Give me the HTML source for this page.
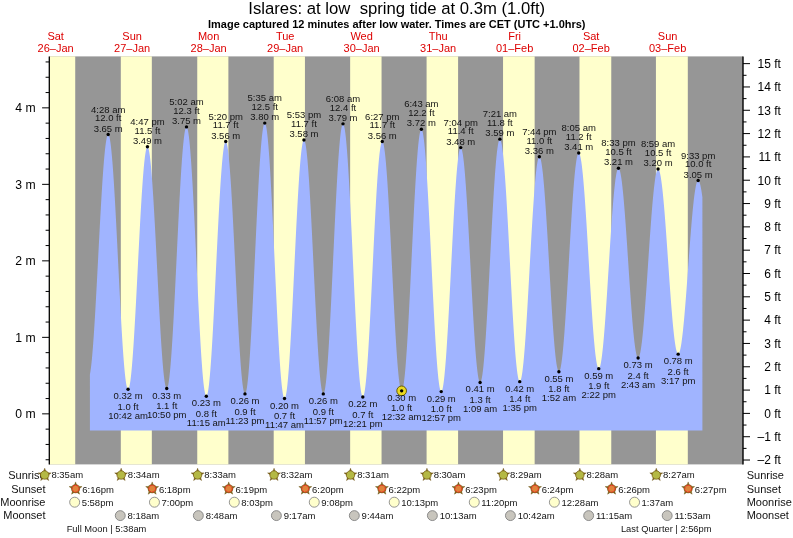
<!DOCTYPE html><html><head><meta charset="utf-8"><title>Islares tide</title><style>html,body{margin:0;padding:0;background:#fff}svg{display:block}text{font-family:"Liberation Sans",sans-serif}</style></head><body>
<svg width="793" height="538" viewBox="0 0 793 538">
<rect width="793" height="538" fill="#fff"/>
<rect x="49.1" y="56.4" width="693.9" height="408.0" fill="#969696"/>
<rect x="49.10" y="56.4" width="26.12" height="408.0" fill="#ffffcc"/>
<rect x="120.81" y="56.4" width="31.02" height="408.0" fill="#ffffcc"/>
<rect x="197.25" y="56.4" width="31.13" height="408.0" fill="#ffffcc"/>
<rect x="273.70" y="56.4" width="31.24" height="408.0" fill="#ffffcc"/>
<rect x="350.15" y="56.4" width="31.40" height="408.0" fill="#ffffcc"/>
<rect x="426.59" y="56.4" width="31.50" height="408.0" fill="#ffffcc"/>
<rect x="503.04" y="56.4" width="31.61" height="408.0" fill="#ffffcc"/>
<rect x="579.49" y="56.4" width="31.77" height="408.0" fill="#ffffcc"/>
<rect x="655.93" y="56.4" width="31.88" height="408.0" fill="#ffffcc"/>
<path d="M89.90 430.60 L89.90 374.47 L90.40 371.62 L90.90 368.06 L91.40 363.81 L91.90 358.90 L92.40 353.35 L92.90 347.20 L93.40 340.49 L93.90 333.26 L94.40 325.56 L94.90 317.43 L95.40 308.92 L95.90 300.09 L96.40 290.98 L96.90 281.67 L97.40 272.19 L97.90 262.63 L98.40 253.02 L98.90 243.44 L99.40 233.93 L99.90 224.57 L100.40 215.41 L100.90 206.50 L101.40 197.90 L101.90 189.67 L102.40 181.85 L102.90 174.50 L103.40 167.65 L103.90 161.35 L104.40 155.65 L104.90 150.57 L105.40 146.15 L105.90 142.41 L106.40 139.38 L106.90 137.08 L107.40 135.51 L107.90 134.70 L108.40 134.65 L108.90 135.38 L109.40 136.91 L109.90 139.22 L110.40 142.29 L110.90 146.11 L111.40 150.66 L111.90 155.90 L112.40 161.80 L112.90 168.33 L113.40 175.44 L113.90 183.10 L114.40 191.24 L114.90 199.83 L115.40 208.81 L115.90 218.11 L116.40 227.70 L116.90 237.49 L117.40 247.44 L117.90 257.48 L118.40 267.55 L118.90 277.58 L119.40 287.51 L119.90 297.29 L120.40 306.84 L120.90 316.12 L121.40 325.05 L121.90 333.59 L122.40 341.69 L122.90 349.28 L123.40 356.33 L123.90 362.79 L124.40 368.62 L124.90 373.78 L125.40 378.25 L125.90 381.99 L126.40 384.98 L126.90 387.20 L127.40 388.63 L127.90 389.28 L128.40 389.13 L128.90 388.19 L129.40 386.46 L129.90 383.95 L130.40 380.68 L130.90 376.68 L131.40 371.96 L131.90 366.56 L132.40 360.51 L132.90 353.86 L133.40 346.65 L133.90 338.92 L134.40 330.72 L134.90 322.11 L135.40 313.15 L135.90 303.90 L136.40 294.41 L136.90 284.74 L137.40 274.97 L137.90 265.15 L138.40 255.35 L138.90 245.64 L139.40 236.07 L139.90 226.71 L140.40 217.62 L140.90 208.86 L141.40 200.50 L141.90 192.57 L142.40 185.14 L142.90 178.25 L143.40 171.96 L143.90 166.29 L144.40 161.29 L144.90 156.99 L145.40 153.42 L145.90 150.60 L146.40 148.55 L146.90 147.29 L147.40 146.82 L147.90 147.14 L148.40 148.27 L148.90 150.19 L149.40 152.88 L149.90 156.34 L150.40 160.53 L150.90 165.44 L151.40 171.03 L151.90 177.25 L152.40 184.07 L152.90 191.45 L153.40 199.34 L153.90 207.68 L154.40 216.41 L154.90 225.49 L155.40 234.84 L155.90 244.42 L156.40 254.15 L156.90 263.96 L157.40 273.80 L157.90 283.61 L158.40 293.30 L158.90 302.83 L159.40 312.12 L159.90 321.12 L160.40 329.76 L160.90 338.00 L161.40 345.76 L161.90 353.01 L162.40 359.69 L162.90 365.77 L163.40 371.19 L163.90 375.92 L164.40 379.94 L164.90 383.22 L165.40 385.72 L165.90 387.45 L166.40 388.38 L166.90 388.51 L167.40 387.82 L167.90 386.30 L168.40 383.98 L168.90 380.86 L169.40 376.96 L169.90 372.31 L170.40 366.93 L170.90 360.87 L171.40 354.15 L171.90 346.83 L172.40 338.94 L172.90 330.54 L173.40 321.68 L173.90 312.42 L174.40 302.81 L174.90 292.91 L175.40 282.80 L175.90 272.53 L176.40 262.16 L176.90 251.76 L177.40 241.41 L177.90 231.15 L178.40 221.07 L178.90 211.21 L179.40 201.65 L179.90 192.45 L180.40 183.65 L180.90 175.32 L181.40 167.52 L181.90 160.28 L182.40 153.66 L182.90 147.70 L183.40 142.43 L183.90 137.89 L184.40 134.10 L184.90 131.10 L185.40 128.90 L185.90 127.51 L186.40 126.94 L186.90 127.20 L187.40 128.31 L187.90 130.26 L188.40 133.03 L188.90 136.60 L189.40 140.97 L189.90 146.09 L190.40 151.93 L190.90 158.46 L191.40 165.64 L191.90 173.43 L192.40 181.76 L192.90 190.60 L193.40 199.88 L193.90 209.56 L194.40 219.55 L194.90 229.81 L195.40 240.28 L195.90 250.87 L196.40 261.53 L196.90 272.19 L197.40 282.79 L197.90 293.25 L198.40 303.51 L198.90 313.51 L199.40 323.19 L199.90 332.47 L200.40 341.31 L200.90 349.65 L201.40 357.44 L201.90 364.62 L202.40 371.16 L202.90 377.01 L203.40 382.13 L203.90 386.50 L204.40 390.08 L204.90 392.86 L205.40 394.81 L205.90 395.92 L206.40 396.19 L206.90 395.62 L207.40 394.22 L207.90 392.00 L208.40 388.97 L208.90 385.15 L209.40 380.57 L209.90 375.25 L210.40 369.24 L210.90 362.57 L211.40 355.28 L211.90 347.43 L212.40 339.06 L212.90 330.23 L213.40 321.00 L213.90 311.43 L214.40 301.58 L214.90 291.51 L215.40 281.29 L215.90 270.99 L216.40 260.68 L216.90 250.42 L217.40 240.28 L217.90 230.33 L218.40 220.63 L218.90 211.25 L219.40 202.25 L219.90 193.68 L220.40 185.60 L220.90 178.07 L221.40 171.14 L221.90 164.85 L222.40 159.24 L222.90 154.34 L223.40 150.20 L223.90 146.84 L224.40 144.27 L224.90 142.53 L225.40 141.61 L225.90 141.53 L226.40 142.28 L226.90 143.86 L227.40 146.27 L227.90 149.48 L228.40 153.47 L228.90 158.23 L229.40 163.70 L229.90 169.87 L230.40 176.69 L230.90 184.11 L231.40 192.08 L231.90 200.55 L232.40 209.47 L232.90 218.78 L233.40 228.41 L233.90 238.30 L234.40 248.39 L234.90 258.60 L235.40 268.87 L235.90 279.14 L236.40 289.33 L236.90 299.38 L237.40 309.21 L237.90 318.77 L238.40 327.99 L238.90 336.82 L239.40 345.18 L239.90 353.03 L240.40 360.31 L240.90 366.98 L241.40 373.00 L241.90 378.31 L242.40 382.89 L242.90 386.70 L243.40 389.73 L243.90 391.95 L244.40 393.34 L244.90 393.90 L245.40 393.61 L245.90 392.48 L246.40 390.50 L246.90 387.68 L247.40 384.05 L247.90 379.62 L248.40 374.44 L248.90 368.51 L249.40 361.90 L249.90 354.63 L250.40 346.76 L250.90 338.32 L251.40 329.39 L251.90 320.00 L252.40 310.23 L252.90 300.13 L253.40 289.77 L253.90 279.21 L254.40 268.52 L254.90 257.77 L255.40 247.02 L255.90 236.34 L256.40 225.80 L256.90 215.47 L257.40 205.42 L257.90 195.69 L258.40 186.37 L258.90 177.50 L259.40 169.14 L259.90 161.34 L260.40 154.16 L260.90 147.64 L261.40 141.82 L261.90 136.73 L262.40 132.41 L262.90 128.89 L263.40 126.19 L263.90 124.33 L264.40 123.31 L264.90 123.14 L265.40 123.84 L265.90 125.41 L266.40 127.83 L266.90 131.09 L267.40 135.17 L267.90 140.04 L268.40 145.67 L268.90 152.04 L269.40 159.08 L269.90 166.78 L270.40 175.06 L270.90 183.89 L271.40 193.20 L271.90 202.94 L272.40 213.04 L272.90 223.45 L273.40 234.09 L273.90 244.90 L274.40 255.81 L274.90 266.75 L275.40 277.65 L275.90 288.45 L276.40 299.08 L276.90 309.46 L277.40 319.53 L277.90 329.23 L278.40 338.51 L278.90 347.29 L279.40 355.52 L279.90 363.16 L280.40 370.15 L280.90 376.45 L281.40 382.02 L281.90 386.82 L282.40 390.83 L282.90 394.02 L283.40 396.36 L283.90 397.85 L284.40 398.48 L284.90 398.24 L285.40 397.16 L285.90 395.25 L286.40 392.51 L286.90 388.97 L287.40 384.65 L287.90 379.58 L288.40 373.79 L288.90 367.31 L289.40 360.19 L289.90 352.48 L290.40 344.23 L290.90 335.49 L291.40 326.32 L291.90 316.77 L292.40 306.91 L292.90 296.81 L293.40 286.53 L293.90 276.13 L294.40 265.69 L294.90 255.27 L295.40 244.95 L295.90 234.78 L296.40 224.83 L296.90 215.18 L297.40 205.88 L297.90 196.99 L298.40 188.57 L298.90 180.68 L299.40 173.36 L299.90 166.68 L300.40 160.66 L300.90 155.34 L301.40 150.78 L301.90 146.98 L302.40 143.98 L302.90 141.80 L303.40 140.45 L303.90 139.93 L304.40 140.26 L304.90 141.43 L305.40 143.42 L305.90 146.23 L306.40 149.83 L306.90 154.21 L307.40 159.33 L307.90 165.15 L308.40 171.65 L308.90 178.78 L309.40 186.49 L309.90 194.73 L310.40 203.44 L310.90 212.58 L311.40 222.07 L311.90 231.86 L312.40 241.88 L312.90 252.06 L313.40 262.34 L313.90 272.66 L314.40 282.93 L314.90 293.10 L315.40 303.10 L315.90 312.85 L316.40 322.31 L316.90 331.40 L317.40 340.06 L317.90 348.25 L318.40 355.89 L318.90 362.95 L319.40 369.38 L319.90 375.13 L320.40 380.16 L320.90 384.45 L321.40 387.97 L321.90 390.68 L322.40 392.58 L322.90 393.65 L323.40 393.89 L323.90 393.27 L324.40 391.80 L324.90 389.49 L325.40 386.35 L325.90 382.40 L326.40 377.66 L326.90 372.17 L327.40 365.97 L327.90 359.08 L328.40 351.55 L328.90 343.44 L329.40 334.79 L329.90 325.66 L330.40 316.10 L330.90 306.19 L331.40 295.97 L331.90 285.51 L332.40 274.89 L332.90 264.17 L333.40 253.41 L333.90 242.68 L334.40 232.06 L334.90 221.61 L335.40 211.40 L335.90 201.49 L336.40 191.94 L336.90 182.82 L337.40 174.18 L337.90 166.08 L338.40 158.56 L338.90 151.69 L339.40 145.49 L339.90 140.02 L340.40 135.30 L340.90 131.36 L341.40 128.23 L341.90 125.94 L342.40 124.48 L342.90 123.88 L343.40 124.14 L343.90 125.25 L344.40 127.21 L344.90 130.01 L345.40 133.63 L345.90 138.05 L346.40 143.23 L346.90 149.15 L347.40 155.76 L347.90 163.04 L348.40 170.92 L348.90 179.37 L349.40 188.33 L349.90 197.74 L350.40 207.54 L350.90 217.68 L351.40 228.08 L351.90 238.69 L352.40 249.44 L352.90 260.25 L353.40 271.06 L353.90 281.81 L354.40 292.42 L354.90 302.83 L355.40 312.98 L355.90 322.79 L356.40 332.22 L356.90 341.19 L357.40 349.65 L357.90 357.56 L358.40 364.85 L358.90 371.49 L359.40 377.43 L359.90 382.64 L360.40 387.08 L360.90 390.72 L361.40 393.55 L361.90 395.53 L362.40 396.67 L362.90 396.96 L363.40 396.40 L363.90 395.01 L364.40 392.81 L364.90 389.79 L365.40 385.99 L365.90 381.43 L366.40 376.14 L366.90 370.15 L367.40 363.50 L367.90 356.23 L368.40 348.40 L368.90 340.05 L369.40 331.24 L369.90 322.02 L370.40 312.46 L370.90 302.62 L371.40 292.56 L371.90 282.35 L372.40 272.05 L372.90 261.74 L373.40 251.47 L373.90 241.32 L374.40 231.35 L374.90 221.62 L375.40 212.21 L375.90 203.17 L376.40 194.56 L376.90 186.44 L377.40 178.86 L377.90 171.86 L378.40 165.50 L378.90 159.82 L379.40 154.85 L379.90 150.63 L380.40 147.18 L380.90 144.53 L381.40 142.69 L381.90 141.68 L382.40 141.49 L382.90 142.13 L383.40 143.58 L383.90 145.84 L384.40 148.88 L384.90 152.70 L385.40 157.26 L385.90 162.53 L386.40 168.48 L386.90 175.07 L387.40 182.27 L387.90 190.01 L388.40 198.25 L388.90 206.93 L389.40 216.00 L389.90 225.41 L390.40 235.08 L390.90 244.95 L391.40 254.96 L391.90 265.05 L392.40 275.14 L392.90 285.18 L393.40 295.09 L393.90 304.81 L394.40 314.27 L394.90 323.43 L395.40 332.20 L395.90 340.54 L396.40 348.40 L396.90 355.71 L397.40 362.44 L397.90 368.53 L398.40 373.96 L398.90 378.68 L399.40 382.66 L399.90 385.87 L400.40 388.30 L400.90 389.93 L401.40 390.75 L401.90 390.75 L402.40 389.92 L402.90 388.26 L403.40 385.79 L403.90 382.53 L404.40 378.48 L404.90 373.69 L405.40 368.17 L405.90 361.96 L406.40 355.11 L406.90 347.66 L407.40 339.65 L407.90 331.13 L408.40 322.16 L408.90 312.80 L409.40 303.10 L409.90 293.13 L410.40 282.95 L410.90 272.62 L411.40 262.22 L411.90 251.80 L412.40 241.43 L412.90 231.18 L413.40 221.11 L413.90 211.29 L414.40 201.78 L414.90 192.64 L415.40 183.93 L415.90 175.70 L416.40 168.01 L416.90 160.90 L417.40 154.42 L417.90 148.61 L418.40 143.51 L418.90 139.14 L419.40 135.55 L419.90 132.74 L420.40 130.75 L420.90 129.57 L421.40 129.22 L421.90 129.70 L422.40 130.99 L422.90 133.09 L423.40 135.99 L423.90 139.66 L424.40 144.09 L424.90 149.25 L425.40 155.10 L425.90 161.61 L426.40 168.73 L426.90 176.43 L427.40 184.65 L427.90 193.35 L428.40 202.46 L428.90 211.94 L429.40 221.72 L429.90 231.74 L430.40 241.94 L430.90 252.25 L431.40 262.62 L431.90 272.97 L432.40 283.25 L432.90 293.38 L433.40 303.31 L433.90 312.97 L434.40 322.30 L434.90 331.24 L435.40 339.74 L435.90 347.75 L436.40 355.21 L436.90 362.07 L437.40 368.31 L437.90 373.86 L438.40 378.71 L438.90 382.83 L439.40 386.17 L439.90 388.73 L440.40 390.49 L440.90 391.44 L441.40 391.57 L441.90 390.90 L442.40 389.45 L442.90 387.21 L443.40 384.22 L443.90 380.48 L444.40 376.02 L444.90 370.87 L445.40 365.07 L445.90 358.64 L446.40 351.64 L446.90 344.11 L447.40 336.09 L447.90 327.64 L448.40 318.81 L448.90 309.67 L449.40 300.26 L449.90 290.66 L450.40 280.92 L450.90 271.10 L451.40 261.28 L451.90 251.51 L452.40 241.86 L452.90 232.38 L453.40 223.15 L453.90 214.22 L454.40 205.65 L454.90 197.50 L455.40 189.81 L455.90 182.64 L456.40 176.03 L456.90 170.03 L457.40 164.68 L457.90 160.00 L458.40 156.04 L458.90 152.82 L459.40 150.35 L459.90 148.66 L460.40 147.75 L460.90 147.63 L461.40 148.28 L461.90 149.70 L462.40 151.88 L462.90 154.80 L463.40 158.44 L463.90 162.78 L464.40 167.79 L464.90 173.44 L465.40 179.68 L465.90 186.49 L466.40 193.82 L466.90 201.61 L467.40 209.81 L467.90 218.38 L468.40 227.25 L468.90 236.37 L469.40 245.68 L469.90 255.12 L470.40 264.62 L470.90 274.12 L471.40 283.57 L471.90 292.89 L472.40 302.03 L472.90 310.93 L473.40 319.52 L473.90 327.76 L474.40 335.58 L474.90 342.95 L475.40 349.80 L475.90 356.09 L476.40 361.79 L476.90 366.86 L477.40 371.25 L477.90 374.95 L478.40 377.93 L478.90 380.16 L479.40 381.65 L479.90 382.36 L480.40 382.31 L480.90 381.49 L481.40 379.91 L481.90 377.57 L482.40 374.50 L482.90 370.71 L483.40 366.23 L483.90 361.08 L484.40 355.30 L484.90 348.92 L485.40 341.98 L485.90 334.53 L486.40 326.62 L486.90 318.29 L487.40 309.60 L487.90 300.60 L488.40 291.35 L488.90 281.90 L489.40 272.32 L489.90 262.67 L490.40 253.01 L490.90 243.40 L491.40 233.89 L491.90 224.56 L492.40 215.46 L492.90 206.64 L493.40 198.16 L493.90 190.08 L494.40 182.44 L494.90 175.31 L495.40 168.71 L495.90 162.69 L496.40 157.29 L496.90 152.54 L497.40 148.48 L497.90 145.13 L498.40 142.51 L498.90 140.63 L499.40 139.52 L499.90 139.17 L500.40 139.58 L500.90 140.74 L501.40 142.66 L501.90 145.31 L502.40 148.68 L502.90 152.74 L503.40 157.48 L503.90 162.87 L504.40 168.86 L504.90 175.42 L505.40 182.52 L505.90 190.10 L506.40 198.12 L506.90 206.53 L507.40 215.28 L507.90 224.31 L508.40 233.56 L508.90 242.98 L509.40 252.51 L509.90 262.10 L510.40 271.66 L510.90 281.16 L511.40 290.53 L511.90 299.72 L512.40 308.65 L512.90 317.29 L513.40 325.57 L513.90 333.44 L514.40 340.86 L514.90 347.77 L515.40 354.14 L515.90 359.92 L516.40 365.08 L516.90 369.59 L517.40 373.42 L517.90 376.54 L518.40 378.93 L518.90 380.58 L519.40 381.49 L519.90 381.64 L520.40 381.05 L520.90 379.76 L521.40 377.75 L521.90 375.04 L522.40 371.66 L522.90 367.62 L523.40 362.94 L523.90 357.67 L524.40 351.83 L524.90 345.45 L525.40 338.59 L525.90 331.28 L526.40 323.58 L526.90 315.52 L527.40 307.17 L527.90 298.58 L528.40 289.80 L528.90 280.88 L529.40 271.89 L529.90 262.88 L530.40 253.92 L530.90 245.05 L531.40 236.33 L531.90 227.83 L532.40 219.59 L532.90 211.68 L533.40 204.13 L533.90 197.00 L534.40 190.33 L534.90 184.17 L535.40 178.55 L535.90 173.51 L536.40 169.09 L536.90 165.32 L537.40 162.21 L537.90 159.78 L538.40 158.06 L538.90 157.05 L539.40 156.76 L539.90 157.18 L540.40 158.29 L540.90 160.08 L541.40 162.54 L541.90 165.66 L542.40 169.41 L542.90 173.78 L543.40 178.73 L543.90 184.23 L544.40 190.25 L544.90 196.75 L545.40 203.68 L545.90 211.00 L546.40 218.67 L546.90 226.63 L547.40 234.83 L547.90 243.22 L548.40 251.75 L548.90 260.36 L549.40 268.99 L549.90 277.59 L550.40 286.11 L550.90 294.49 L551.40 302.67 L551.90 310.60 L552.40 318.23 L552.90 325.52 L553.40 332.41 L553.90 338.86 L554.40 344.83 L554.90 350.27 L555.40 355.17 L555.90 359.48 L556.40 363.17 L556.90 366.22 L557.40 368.62 L557.90 370.34 L558.40 371.38 L558.90 371.72 L559.40 371.38 L559.90 370.35 L560.40 368.65 L560.90 366.27 L561.40 363.24 L561.90 359.58 L562.40 355.31 L562.90 350.45 L563.40 345.05 L563.90 339.12 L564.40 332.71 L564.90 325.85 L565.40 318.60 L565.90 310.99 L566.40 303.08 L566.90 294.92 L567.40 286.54 L567.90 278.02 L568.40 269.40 L568.90 260.73 L569.40 252.07 L569.90 243.48 L570.40 235.01 L570.90 226.71 L571.40 218.63 L571.90 210.82 L572.40 203.34 L572.90 196.23 L573.40 189.54 L573.90 183.30 L574.40 177.56 L574.90 172.35 L575.40 167.70 L575.90 163.65 L576.40 160.22 L576.90 157.44 L577.40 155.31 L577.90 153.85 L578.40 153.07 L578.90 152.98 L579.40 153.56 L579.90 154.79 L580.40 156.68 L580.90 159.21 L581.40 162.36 L581.90 166.11 L582.40 170.45 L582.90 175.35 L583.40 180.77 L583.90 186.68 L584.40 193.05 L584.90 199.83 L585.40 206.99 L585.90 214.48 L586.40 222.25 L586.90 230.27 L587.40 238.46 L587.90 246.80 L588.40 255.22 L588.90 263.68 L589.40 272.12 L589.90 280.49 L590.40 288.74 L590.90 296.82 L591.40 304.67 L591.90 312.26 L592.40 319.53 L592.90 326.43 L593.40 332.94 L593.90 339.00 L594.40 344.58 L594.90 349.65 L595.40 354.17 L595.90 358.11 L596.40 361.46 L596.90 364.19 L597.40 366.28 L597.90 367.72 L598.40 368.51 L598.90 368.63 L599.40 368.12 L599.90 366.97 L600.40 365.19 L600.90 362.80 L601.40 359.82 L601.90 356.25 L602.40 352.12 L602.90 347.47 L603.40 342.31 L603.90 336.68 L604.40 330.62 L604.90 324.17 L605.40 317.36 L605.90 310.24 L606.40 302.85 L606.90 295.25 L607.40 287.48 L607.90 279.58 L608.40 271.62 L608.90 263.63 L609.40 255.68 L609.90 247.81 L610.40 240.07 L610.90 232.50 L611.40 225.17 L611.90 218.11 L612.40 211.37 L612.90 205.00 L613.40 199.02 L613.90 193.49 L614.40 188.43 L614.90 183.88 L615.40 179.87 L615.90 176.42 L616.40 173.55 L616.90 171.29 L617.40 169.64 L617.90 168.62 L618.40 168.24 L618.90 168.48 L619.40 169.32 L619.90 170.76 L620.40 172.79 L620.90 175.40 L621.40 178.56 L621.90 182.27 L622.40 186.49 L622.90 191.20 L623.40 196.37 L623.90 201.97 L624.40 207.95 L624.90 214.29 L625.40 220.94 L625.90 227.86 L626.40 235.00 L626.90 242.32 L627.40 249.78 L627.90 257.32 L628.40 264.90 L628.90 272.46 L629.40 279.97 L629.90 287.36 L630.40 294.61 L630.90 301.65 L631.40 308.44 L631.90 314.95 L632.40 321.13 L632.90 326.93 L633.40 332.33 L633.90 337.28 L634.40 341.77 L634.90 345.75 L635.40 349.20 L635.90 352.10 L636.40 354.44 L636.90 356.19 L637.40 357.35 L637.90 357.90 L638.40 357.86 L638.90 357.23 L639.40 356.02 L639.90 354.23 L640.40 351.89 L640.90 349.00 L641.40 345.58 L641.90 341.66 L642.40 337.25 L642.90 332.38 L643.40 327.09 L643.90 321.41 L644.40 315.37 L644.90 309.00 L645.40 302.36 L645.90 295.48 L646.40 288.39 L646.90 281.16 L647.40 273.81 L647.90 266.40 L648.40 258.98 L648.90 251.58 L649.40 244.25 L649.90 237.04 L650.40 230.00 L650.90 223.16 L651.40 216.57 L651.90 210.28 L652.40 204.31 L652.90 198.70 L653.40 193.50 L653.90 188.73 L654.40 184.42 L654.90 180.60 L655.40 177.30 L655.90 174.52 L656.40 172.30 L656.90 170.63 L657.40 169.55 L657.90 169.04 L658.40 169.11 L658.90 169.75 L659.40 170.95 L659.90 172.71 L660.40 175.01 L660.90 177.84 L661.40 181.18 L661.90 185.01 L662.40 189.31 L662.90 194.05 L663.40 199.20 L663.90 204.74 L664.40 210.62 L664.90 216.82 L665.40 223.29 L665.90 229.99 L666.40 236.89 L666.90 243.93 L667.40 251.09 L667.90 258.31 L668.40 265.55 L668.90 272.76 L669.40 279.91 L669.90 286.94 L670.40 293.82 L670.90 300.50 L671.40 306.94 L671.90 313.11 L672.40 318.96 L672.90 324.46 L673.40 329.57 L673.90 334.27 L674.40 338.53 L674.90 342.31 L675.40 345.60 L675.90 348.38 L676.40 350.62 L676.90 352.32 L677.40 353.47 L677.90 354.05 L678.40 354.07 L678.90 353.55 L679.40 352.50 L679.90 350.92 L680.40 348.82 L680.90 346.22 L681.40 343.14 L681.90 339.58 L682.40 335.58 L682.90 331.15 L683.40 326.33 L683.90 321.15 L684.40 315.63 L684.90 309.81 L685.40 303.74 L685.90 297.43 L686.40 290.94 L686.90 284.30 L687.40 277.56 L687.90 270.76 L688.40 263.93 L688.90 257.13 L689.40 250.38 L689.90 243.75 L690.40 237.25 L690.90 230.95 L691.40 224.87 L691.90 219.05 L692.40 213.52 L692.90 208.34 L693.40 203.51 L693.90 199.08 L694.40 195.07 L694.90 191.51 L695.40 188.42 L695.90 185.81 L696.40 183.71 L696.90 182.12 L697.40 181.06 L697.90 180.54 L698.40 180.54 L698.90 181.03 L699.40 181.99 L699.90 183.43 L700.40 185.32 L700.90 187.67 L701.40 190.45 L701.90 193.65 L702.40 197.25 L702.40 430.60 Z" fill="#a0b4ff"/>
<line x1="49.300000000000004" y1="56.4" x2="49.300000000000004" y2="464.4" stroke="#000" stroke-width="1.3"/>
<line x1="743.0" y1="56.4" x2="743.0" y2="464.4" stroke="#000" stroke-width="1.4"/>
<line x1="45.6" y1="459.75" x2="49.1" y2="459.75" stroke="#000" stroke-width="1"/>
<line x1="45.6" y1="444.45" x2="49.1" y2="444.45" stroke="#000" stroke-width="1"/>
<line x1="45.6" y1="429.15" x2="49.1" y2="429.15" stroke="#000" stroke-width="1"/>
<line x1="42.1" y1="413.85" x2="49.1" y2="413.85" stroke="#000" stroke-width="1"/>
<text x="35.6" y="418.25" font-size="12.2" text-anchor="end" fill="#000">0 m</text>
<line x1="45.6" y1="398.55" x2="49.1" y2="398.55" stroke="#000" stroke-width="1"/>
<line x1="45.6" y1="383.25" x2="49.1" y2="383.25" stroke="#000" stroke-width="1"/>
<line x1="45.6" y1="367.95" x2="49.1" y2="367.95" stroke="#000" stroke-width="1"/>
<line x1="45.6" y1="352.65" x2="49.1" y2="352.65" stroke="#000" stroke-width="1"/>
<line x1="42.1" y1="337.35" x2="49.1" y2="337.35" stroke="#000" stroke-width="1"/>
<text x="35.6" y="341.75" font-size="12.2" text-anchor="end" fill="#000">1 m</text>
<line x1="45.6" y1="322.05" x2="49.1" y2="322.05" stroke="#000" stroke-width="1"/>
<line x1="45.6" y1="306.75" x2="49.1" y2="306.75" stroke="#000" stroke-width="1"/>
<line x1="45.6" y1="291.45" x2="49.1" y2="291.45" stroke="#000" stroke-width="1"/>
<line x1="45.6" y1="276.15" x2="49.1" y2="276.15" stroke="#000" stroke-width="1"/>
<line x1="42.1" y1="260.85" x2="49.1" y2="260.85" stroke="#000" stroke-width="1"/>
<text x="35.6" y="265.25" font-size="12.2" text-anchor="end" fill="#000">2 m</text>
<line x1="45.6" y1="245.55" x2="49.1" y2="245.55" stroke="#000" stroke-width="1"/>
<line x1="45.6" y1="230.25" x2="49.1" y2="230.25" stroke="#000" stroke-width="1"/>
<line x1="45.6" y1="214.95" x2="49.1" y2="214.95" stroke="#000" stroke-width="1"/>
<line x1="45.6" y1="199.65" x2="49.1" y2="199.65" stroke="#000" stroke-width="1"/>
<line x1="42.1" y1="184.35" x2="49.1" y2="184.35" stroke="#000" stroke-width="1"/>
<text x="35.6" y="188.75" font-size="12.2" text-anchor="end" fill="#000">3 m</text>
<line x1="45.6" y1="169.05" x2="49.1" y2="169.05" stroke="#000" stroke-width="1"/>
<line x1="45.6" y1="153.75" x2="49.1" y2="153.75" stroke="#000" stroke-width="1"/>
<line x1="45.6" y1="138.45" x2="49.1" y2="138.45" stroke="#000" stroke-width="1"/>
<line x1="45.6" y1="123.15" x2="49.1" y2="123.15" stroke="#000" stroke-width="1"/>
<line x1="42.1" y1="107.85" x2="49.1" y2="107.85" stroke="#000" stroke-width="1"/>
<text x="35.6" y="112.25" font-size="12.2" text-anchor="end" fill="#000">4 m</text>
<line x1="45.6" y1="92.55" x2="49.1" y2="92.55" stroke="#000" stroke-width="1"/>
<line x1="45.6" y1="77.25" x2="49.1" y2="77.25" stroke="#000" stroke-width="1"/>
<line x1="45.6" y1="61.95" x2="49.1" y2="61.95" stroke="#000" stroke-width="1"/>
<line x1="743.0" y1="460.03" x2="750.0" y2="460.03" stroke="#000" stroke-width="1"/>
<text x="780.9" y="464.33" font-size="12" text-anchor="end" fill="#000">–2 ft</text>
<line x1="743.0" y1="448.38" x2="746.5" y2="448.38" stroke="#000" stroke-width="1"/>
<line x1="743.0" y1="436.72" x2="750.0" y2="436.72" stroke="#000" stroke-width="1"/>
<text x="780.9" y="441.02" font-size="12" text-anchor="end" fill="#000">–1 ft</text>
<line x1="743.0" y1="425.06" x2="746.5" y2="425.06" stroke="#000" stroke-width="1"/>
<line x1="743.0" y1="413.40" x2="750.0" y2="413.40" stroke="#000" stroke-width="1"/>
<text x="780.9" y="417.70" font-size="12" text-anchor="end" fill="#000">0 ft</text>
<line x1="743.0" y1="401.74" x2="746.5" y2="401.74" stroke="#000" stroke-width="1"/>
<line x1="743.0" y1="390.08" x2="750.0" y2="390.08" stroke="#000" stroke-width="1"/>
<text x="780.9" y="394.38" font-size="12" text-anchor="end" fill="#000">1 ft</text>
<line x1="743.0" y1="378.42" x2="746.5" y2="378.42" stroke="#000" stroke-width="1"/>
<line x1="743.0" y1="366.77" x2="750.0" y2="366.77" stroke="#000" stroke-width="1"/>
<text x="780.9" y="371.07" font-size="12" text-anchor="end" fill="#000">2 ft</text>
<line x1="743.0" y1="355.11" x2="746.5" y2="355.11" stroke="#000" stroke-width="1"/>
<line x1="743.0" y1="343.45" x2="750.0" y2="343.45" stroke="#000" stroke-width="1"/>
<text x="780.9" y="347.75" font-size="12" text-anchor="end" fill="#000">3 ft</text>
<line x1="743.0" y1="331.79" x2="746.5" y2="331.79" stroke="#000" stroke-width="1"/>
<line x1="743.0" y1="320.13" x2="750.0" y2="320.13" stroke="#000" stroke-width="1"/>
<text x="780.9" y="324.43" font-size="12" text-anchor="end" fill="#000">4 ft</text>
<line x1="743.0" y1="308.47" x2="746.5" y2="308.47" stroke="#000" stroke-width="1"/>
<line x1="743.0" y1="296.81" x2="750.0" y2="296.81" stroke="#000" stroke-width="1"/>
<text x="780.9" y="301.11" font-size="12" text-anchor="end" fill="#000">5 ft</text>
<line x1="743.0" y1="285.16" x2="746.5" y2="285.16" stroke="#000" stroke-width="1"/>
<line x1="743.0" y1="273.50" x2="750.0" y2="273.50" stroke="#000" stroke-width="1"/>
<text x="780.9" y="277.80" font-size="12" text-anchor="end" fill="#000">6 ft</text>
<line x1="743.0" y1="261.84" x2="746.5" y2="261.84" stroke="#000" stroke-width="1"/>
<line x1="743.0" y1="250.18" x2="750.0" y2="250.18" stroke="#000" stroke-width="1"/>
<text x="780.9" y="254.48" font-size="12" text-anchor="end" fill="#000">7 ft</text>
<line x1="743.0" y1="238.52" x2="746.5" y2="238.52" stroke="#000" stroke-width="1"/>
<line x1="743.0" y1="226.86" x2="750.0" y2="226.86" stroke="#000" stroke-width="1"/>
<text x="780.9" y="231.16" font-size="12" text-anchor="end" fill="#000">8 ft</text>
<line x1="743.0" y1="215.20" x2="746.5" y2="215.20" stroke="#000" stroke-width="1"/>
<line x1="743.0" y1="203.55" x2="750.0" y2="203.55" stroke="#000" stroke-width="1"/>
<text x="780.9" y="207.85" font-size="12" text-anchor="end" fill="#000">9 ft</text>
<line x1="743.0" y1="191.89" x2="746.5" y2="191.89" stroke="#000" stroke-width="1"/>
<line x1="743.0" y1="180.23" x2="750.0" y2="180.23" stroke="#000" stroke-width="1"/>
<text x="780.9" y="184.53" font-size="12" text-anchor="end" fill="#000">10 ft</text>
<line x1="743.0" y1="168.57" x2="746.5" y2="168.57" stroke="#000" stroke-width="1"/>
<line x1="743.0" y1="156.91" x2="750.0" y2="156.91" stroke="#000" stroke-width="1"/>
<text x="780.9" y="161.21" font-size="12" text-anchor="end" fill="#000">11 ft</text>
<line x1="743.0" y1="145.25" x2="746.5" y2="145.25" stroke="#000" stroke-width="1"/>
<line x1="743.0" y1="133.59" x2="750.0" y2="133.59" stroke="#000" stroke-width="1"/>
<text x="780.9" y="137.89" font-size="12" text-anchor="end" fill="#000">12 ft</text>
<line x1="743.0" y1="121.93" x2="746.5" y2="121.93" stroke="#000" stroke-width="1"/>
<line x1="743.0" y1="110.28" x2="750.0" y2="110.28" stroke="#000" stroke-width="1"/>
<text x="780.9" y="114.58" font-size="12" text-anchor="end" fill="#000">13 ft</text>
<line x1="743.0" y1="98.62" x2="746.5" y2="98.62" stroke="#000" stroke-width="1"/>
<line x1="743.0" y1="86.96" x2="750.0" y2="86.96" stroke="#000" stroke-width="1"/>
<text x="780.9" y="91.26" font-size="12" text-anchor="end" fill="#000">14 ft</text>
<line x1="743.0" y1="75.30" x2="746.5" y2="75.30" stroke="#000" stroke-width="1"/>
<line x1="743.0" y1="63.64" x2="750.0" y2="63.64" stroke="#000" stroke-width="1"/>
<text x="780.9" y="67.94" font-size="12" text-anchor="end" fill="#000">15 ft</text>
<text x="396.75" y="13.7" font-size="16.7" text-anchor="middle" fill="#000" xml:space="preserve">Islares: at low  spring tide at 0.3m (1.0ft)</text>
<text x="396.75" y="27.5" font-size="10.97" font-weight="bold" text-anchor="middle" fill="#000">Image captured 12 minutes after low water. Times are CET (UTC +1.0hrs)</text>
<text x="55.65" y="40.3" font-size="11" text-anchor="middle" fill="#dd0000">Sat</text>
<text x="55.65" y="51.9" font-size="11" text-anchor="middle" fill="#dd0000">26–Jan</text>
<text x="132.15" y="40.3" font-size="11" text-anchor="middle" fill="#dd0000">Sun</text>
<text x="132.15" y="51.9" font-size="11" text-anchor="middle" fill="#dd0000">27–Jan</text>
<text x="208.65" y="40.3" font-size="11" text-anchor="middle" fill="#dd0000">Mon</text>
<text x="208.65" y="51.9" font-size="11" text-anchor="middle" fill="#dd0000">28–Jan</text>
<text x="285.15" y="40.3" font-size="11" text-anchor="middle" fill="#dd0000">Tue</text>
<text x="285.15" y="51.9" font-size="11" text-anchor="middle" fill="#dd0000">29–Jan</text>
<text x="361.65" y="40.3" font-size="11" text-anchor="middle" fill="#dd0000">Wed</text>
<text x="361.65" y="51.9" font-size="11" text-anchor="middle" fill="#dd0000">30–Jan</text>
<text x="438.15" y="40.3" font-size="11" text-anchor="middle" fill="#dd0000">Thu</text>
<text x="438.15" y="51.9" font-size="11" text-anchor="middle" fill="#dd0000">31–Jan</text>
<text x="514.65" y="40.3" font-size="11" text-anchor="middle" fill="#dd0000">Fri</text>
<text x="514.65" y="51.9" font-size="11" text-anchor="middle" fill="#dd0000">01–Feb</text>
<text x="591.15" y="40.3" font-size="11" text-anchor="middle" fill="#dd0000">Sat</text>
<text x="591.15" y="51.9" font-size="11" text-anchor="middle" fill="#dd0000">02–Feb</text>
<text x="667.65" y="40.3" font-size="11" text-anchor="middle" fill="#dd0000">Sun</text>
<text x="667.65" y="51.9" font-size="11" text-anchor="middle" fill="#dd0000">03–Feb</text>
<text x="108.19" y="112.77" font-size="9.5" text-anchor="middle" fill="#141414">4:28 am</text>
<text x="108.19" y="121.47" font-size="9.5" text-anchor="middle" fill="#141414">12.0 ft</text>
<text x="108.19" y="131.67" font-size="9.5" text-anchor="middle" fill="#141414">3.65 m</text>
<circle cx="108.19" cy="134.57" r="1.7" fill="#000"/>
<text x="147.45" y="125.01" font-size="9.5" text-anchor="middle" fill="#141414">4:47 pm</text>
<text x="147.45" y="133.71" font-size="9.5" text-anchor="middle" fill="#141414">11.5 ft</text>
<text x="147.45" y="143.91" font-size="9.5" text-anchor="middle" fill="#141414">3.49 m</text>
<circle cx="147.45" cy="146.81" r="1.7" fill="#000"/>
<text x="186.49" y="105.12" font-size="9.5" text-anchor="middle" fill="#141414">5:02 am</text>
<text x="186.49" y="113.82" font-size="9.5" text-anchor="middle" fill="#141414">12.3 ft</text>
<text x="186.49" y="124.02" font-size="9.5" text-anchor="middle" fill="#141414">3.75 m</text>
<circle cx="186.49" cy="126.92" r="1.7" fill="#000"/>
<text x="225.70" y="119.66" font-size="9.5" text-anchor="middle" fill="#141414">5:20 pm</text>
<text x="225.70" y="128.36" font-size="9.5" text-anchor="middle" fill="#141414">11.7 ft</text>
<text x="225.70" y="138.56" font-size="9.5" text-anchor="middle" fill="#141414">3.56 m</text>
<circle cx="225.70" cy="141.46" r="1.7" fill="#000"/>
<text x="264.75" y="101.30" font-size="9.5" text-anchor="middle" fill="#141414">5:35 am</text>
<text x="264.75" y="110.00" font-size="9.5" text-anchor="middle" fill="#141414">12.5 ft</text>
<text x="264.75" y="120.20" font-size="9.5" text-anchor="middle" fill="#141414">3.80 m</text>
<circle cx="264.75" cy="123.10" r="1.7" fill="#000"/>
<text x="303.95" y="118.13" font-size="9.5" text-anchor="middle" fill="#141414">5:53 pm</text>
<text x="303.95" y="126.83" font-size="9.5" text-anchor="middle" fill="#141414">11.7 ft</text>
<text x="303.95" y="137.03" font-size="9.5" text-anchor="middle" fill="#141414">3.58 m</text>
<circle cx="303.95" cy="139.93" r="1.7" fill="#000"/>
<text x="343.00" y="102.06" font-size="9.5" text-anchor="middle" fill="#141414">6:08 am</text>
<text x="343.00" y="110.76" font-size="9.5" text-anchor="middle" fill="#141414">12.4 ft</text>
<text x="343.00" y="120.96" font-size="9.5" text-anchor="middle" fill="#141414">3.79 m</text>
<circle cx="343.00" cy="123.86" r="1.7" fill="#000"/>
<text x="382.26" y="119.66" font-size="9.5" text-anchor="middle" fill="#141414">6:27 pm</text>
<text x="382.26" y="128.36" font-size="9.5" text-anchor="middle" fill="#141414">11.7 ft</text>
<text x="382.26" y="138.56" font-size="9.5" text-anchor="middle" fill="#141414">3.56 m</text>
<circle cx="382.26" cy="141.46" r="1.7" fill="#000"/>
<text x="421.36" y="107.42" font-size="9.5" text-anchor="middle" fill="#141414">6:43 am</text>
<text x="421.36" y="116.12" font-size="9.5" text-anchor="middle" fill="#141414">12.2 ft</text>
<text x="421.36" y="126.32" font-size="9.5" text-anchor="middle" fill="#141414">3.72 m</text>
<circle cx="421.36" cy="129.22" r="1.7" fill="#000"/>
<text x="460.72" y="125.78" font-size="9.5" text-anchor="middle" fill="#141414">7:04 pm</text>
<text x="460.72" y="134.48" font-size="9.5" text-anchor="middle" fill="#141414">11.4 ft</text>
<text x="460.72" y="144.68" font-size="9.5" text-anchor="middle" fill="#141414">3.48 m</text>
<circle cx="460.72" cy="147.58" r="1.7" fill="#000"/>
<text x="499.88" y="117.36" font-size="9.5" text-anchor="middle" fill="#141414">7:21 am</text>
<text x="499.88" y="126.06" font-size="9.5" text-anchor="middle" fill="#141414">11.8 ft</text>
<text x="499.88" y="136.26" font-size="9.5" text-anchor="middle" fill="#141414">3.59 m</text>
<circle cx="499.88" cy="139.16" r="1.7" fill="#000"/>
<text x="539.35" y="134.96" font-size="9.5" text-anchor="middle" fill="#141414">7:44 pm</text>
<text x="539.35" y="143.66" font-size="9.5" text-anchor="middle" fill="#141414">11.0 ft</text>
<text x="539.35" y="153.86" font-size="9.5" text-anchor="middle" fill="#141414">3.36 m</text>
<circle cx="539.35" cy="156.76" r="1.7" fill="#000"/>
<text x="578.72" y="131.13" font-size="9.5" text-anchor="middle" fill="#141414">8:05 am</text>
<text x="578.72" y="139.83" font-size="9.5" text-anchor="middle" fill="#141414">11.2 ft</text>
<text x="578.72" y="150.03" font-size="9.5" text-anchor="middle" fill="#141414">3.41 m</text>
<circle cx="578.72" cy="152.93" r="1.7" fill="#000"/>
<text x="618.45" y="146.43" font-size="9.5" text-anchor="middle" fill="#141414">8:33 pm</text>
<text x="618.45" y="155.13" font-size="9.5" text-anchor="middle" fill="#141414">10.5 ft</text>
<text x="618.45" y="165.33" font-size="9.5" text-anchor="middle" fill="#141414">3.21 m</text>
<circle cx="618.45" cy="168.23" r="1.7" fill="#000"/>
<text x="658.08" y="147.20" font-size="9.5" text-anchor="middle" fill="#141414">8:59 am</text>
<text x="658.08" y="155.90" font-size="9.5" text-anchor="middle" fill="#141414">10.5 ft</text>
<text x="658.08" y="166.10" font-size="9.5" text-anchor="middle" fill="#141414">3.20 m</text>
<circle cx="658.08" cy="169.00" r="1.7" fill="#000"/>
<text x="698.14" y="158.67" font-size="9.5" text-anchor="middle" fill="#141414">9:33 pm</text>
<text x="698.14" y="167.37" font-size="9.5" text-anchor="middle" fill="#141414">10.0 ft</text>
<text x="698.14" y="177.57" font-size="9.5" text-anchor="middle" fill="#141414">3.05 m</text>
<circle cx="698.14" cy="180.47" r="1.7" fill="#000"/>
<text x="128.06" y="399.32" font-size="9.5" text-anchor="middle" fill="#141414">0.32 m</text>
<text x="128.06" y="409.92" font-size="9.5" text-anchor="middle" fill="#141414">1.0 ft</text>
<text x="128.06" y="418.92" font-size="9.5" text-anchor="middle" fill="#141414">10:42 am</text>
<circle cx="128.06" cy="389.32" r="1.7" fill="#000"/>
<text x="166.73" y="398.55" font-size="9.5" text-anchor="middle" fill="#141414">0.33 m</text>
<text x="166.73" y="409.15" font-size="9.5" text-anchor="middle" fill="#141414">1.1 ft</text>
<text x="166.73" y="418.15" font-size="9.5" text-anchor="middle" fill="#141414">10:50 pm</text>
<circle cx="166.73" cy="388.55" r="1.7" fill="#000"/>
<text x="206.31" y="406.20" font-size="9.5" text-anchor="middle" fill="#141414">0.23 m</text>
<text x="206.31" y="416.80" font-size="9.5" text-anchor="middle" fill="#141414">0.8 ft</text>
<text x="206.31" y="425.80" font-size="9.5" text-anchor="middle" fill="#141414">11:15 am</text>
<circle cx="206.31" cy="396.20" r="1.7" fill="#000"/>
<text x="244.98" y="403.91" font-size="9.5" text-anchor="middle" fill="#141414">0.26 m</text>
<text x="244.98" y="414.51" font-size="9.5" text-anchor="middle" fill="#141414">0.9 ft</text>
<text x="244.98" y="423.51" font-size="9.5" text-anchor="middle" fill="#141414">11:23 pm</text>
<circle cx="244.98" cy="393.91" r="1.7" fill="#000"/>
<text x="284.51" y="408.50" font-size="9.5" text-anchor="middle" fill="#141414">0.20 m</text>
<text x="284.51" y="419.10" font-size="9.5" text-anchor="middle" fill="#141414">0.7 ft</text>
<text x="284.51" y="428.10" font-size="9.5" text-anchor="middle" fill="#141414">11:47 am</text>
<circle cx="284.51" cy="398.50" r="1.7" fill="#000"/>
<text x="323.29" y="403.91" font-size="9.5" text-anchor="middle" fill="#141414">0.26 m</text>
<text x="323.29" y="414.51" font-size="9.5" text-anchor="middle" fill="#141414">0.9 ft</text>
<text x="323.29" y="423.51" font-size="9.5" text-anchor="middle" fill="#141414">11:57 pm</text>
<circle cx="323.29" cy="393.91" r="1.7" fill="#000"/>
<text x="362.82" y="406.97" font-size="9.5" text-anchor="middle" fill="#141414">0.22 m</text>
<text x="362.82" y="417.57" font-size="9.5" text-anchor="middle" fill="#141414">0.7 ft</text>
<text x="362.82" y="426.57" font-size="9.5" text-anchor="middle" fill="#141414">12:21 pm</text>
<circle cx="362.82" cy="396.97" r="1.7" fill="#000"/>
<circle cx="401.65" cy="390.85" r="4.85" fill="#ead820" stroke="#5a5000" stroke-width="0.9"/>
<text x="401.65" y="400.85" font-size="9.5" text-anchor="middle" fill="#141414">0.30 m</text>
<text x="401.65" y="411.45" font-size="9.5" text-anchor="middle" fill="#141414">1.0 ft</text>
<text x="401.65" y="420.45" font-size="9.5" text-anchor="middle" fill="#141414">12:32 am</text>
<circle cx="401.65" cy="390.85" r="1.7" fill="#000"/>
<text x="441.23" y="401.61" font-size="9.5" text-anchor="middle" fill="#141414">0.29 m</text>
<text x="441.23" y="412.21" font-size="9.5" text-anchor="middle" fill="#141414">1.0 ft</text>
<text x="441.23" y="421.21" font-size="9.5" text-anchor="middle" fill="#141414">12:57 pm</text>
<circle cx="441.23" cy="391.61" r="1.7" fill="#000"/>
<text x="480.12" y="392.43" font-size="9.5" text-anchor="middle" fill="#141414">0.41 m</text>
<text x="480.12" y="403.03" font-size="9.5" text-anchor="middle" fill="#141414">1.3 ft</text>
<text x="480.12" y="412.03" font-size="9.5" text-anchor="middle" fill="#141414">1:09 am</text>
<circle cx="480.12" cy="382.43" r="1.7" fill="#000"/>
<text x="519.75" y="391.67" font-size="9.5" text-anchor="middle" fill="#141414">0.42 m</text>
<text x="519.75" y="402.27" font-size="9.5" text-anchor="middle" fill="#141414">1.4 ft</text>
<text x="519.75" y="411.27" font-size="9.5" text-anchor="middle" fill="#141414">1:35 pm</text>
<circle cx="519.75" cy="381.67" r="1.7" fill="#000"/>
<text x="558.90" y="381.72" font-size="9.5" text-anchor="middle" fill="#141414">0.55 m</text>
<text x="558.90" y="392.32" font-size="9.5" text-anchor="middle" fill="#141414">1.8 ft</text>
<text x="558.90" y="401.32" font-size="9.5" text-anchor="middle" fill="#141414">1:52 am</text>
<circle cx="558.90" cy="371.72" r="1.7" fill="#000"/>
<text x="598.74" y="378.66" font-size="9.5" text-anchor="middle" fill="#141414">0.59 m</text>
<text x="598.74" y="389.26" font-size="9.5" text-anchor="middle" fill="#141414">1.9 ft</text>
<text x="598.74" y="398.26" font-size="9.5" text-anchor="middle" fill="#141414">2:22 pm</text>
<circle cx="598.74" cy="368.66" r="1.7" fill="#000"/>
<text x="638.11" y="367.95" font-size="9.5" text-anchor="middle" fill="#141414">0.73 m</text>
<text x="638.11" y="378.55" font-size="9.5" text-anchor="middle" fill="#141414">2.4 ft</text>
<text x="638.11" y="387.55" font-size="9.5" text-anchor="middle" fill="#141414">2:43 am</text>
<circle cx="638.11" cy="357.95" r="1.7" fill="#000"/>
<text x="678.17" y="364.13" font-size="9.5" text-anchor="middle" fill="#141414">0.78 m</text>
<text x="678.17" y="374.73" font-size="9.5" text-anchor="middle" fill="#141414">2.6 ft</text>
<text x="678.17" y="383.73" font-size="9.5" text-anchor="middle" fill="#141414">3:17 pm</text>
<circle cx="678.17" cy="354.13" r="1.7" fill="#000"/>
<text x="45.5" y="479.0" font-size="11" text-anchor="end" fill="#111">Sunrise</text>
<text x="746.7" y="479.0" font-size="11" fill="#111">Sunrise</text>
<text x="45.5" y="492.9" font-size="11" text-anchor="end" fill="#111">Sunset</text>
<text x="746.7" y="492.9" font-size="11" fill="#111">Sunset</text>
<text x="45.5" y="506.4" font-size="11" text-anchor="end" fill="#111">Moonrise</text>
<text x="746.7" y="506.4" font-size="11" fill="#111">Moonrise</text>
<text x="45.5" y="519.3" font-size="11" text-anchor="end" fill="#111">Moonset</text>
<text x="746.7" y="519.3" font-size="11" fill="#111">Moonset</text>
<polygon points="44.71,468.20 46.30,472.82 51.18,472.90 47.28,475.83 48.71,480.50 44.71,477.70 40.71,480.50 42.14,475.83 38.24,472.90 43.12,472.82" fill="#7a5c14" stroke="#6a5010" stroke-width="0.4" stroke-miterlimit="10"/>
<circle cx="44.71" cy="475.0" r="4.2" fill="#b4b844" stroke="#7a6016" stroke-width="0.8"/>
<text x="51.41" y="477.6" font-size="9.5" fill="#141414">8:35am</text>
<polygon points="121.16,468.20 122.74,472.82 127.62,472.90 123.72,475.83 125.15,480.50 121.16,477.70 117.16,480.50 118.59,475.83 114.69,472.90 119.57,472.82" fill="#7a5c14" stroke="#6a5010" stroke-width="0.4" stroke-miterlimit="10"/>
<circle cx="121.16" cy="475.0" r="4.2" fill="#b4b844" stroke="#7a6016" stroke-width="0.8"/>
<text x="127.86" y="477.6" font-size="9.5" fill="#141414">8:34am</text>
<polygon points="197.60,468.20 199.19,472.82 204.07,472.90 200.17,475.83 201.60,480.50 197.60,477.70 193.61,480.50 195.04,475.83 191.14,472.90 196.02,472.82" fill="#7a5c14" stroke="#6a5010" stroke-width="0.4" stroke-miterlimit="10"/>
<circle cx="197.60" cy="475.0" r="4.2" fill="#b4b844" stroke="#7a6016" stroke-width="0.8"/>
<text x="204.30" y="477.6" font-size="9.5" fill="#141414">8:33am</text>
<polygon points="274.05,468.20 275.64,472.82 280.52,472.90 276.62,475.83 278.05,480.50 274.05,477.70 270.05,480.50 271.48,475.83 267.58,472.90 272.46,472.82" fill="#7a5c14" stroke="#6a5010" stroke-width="0.4" stroke-miterlimit="10"/>
<circle cx="274.05" cy="475.0" r="4.2" fill="#b4b844" stroke="#7a6016" stroke-width="0.8"/>
<text x="280.75" y="477.6" font-size="9.5" fill="#141414">8:32am</text>
<polygon points="350.50,468.20 352.08,472.82 356.96,472.90 353.06,475.83 354.49,480.50 350.50,477.70 346.50,480.50 347.93,475.83 344.03,472.90 348.91,472.82" fill="#7a5c14" stroke="#6a5010" stroke-width="0.4" stroke-miterlimit="10"/>
<circle cx="350.50" cy="475.0" r="4.2" fill="#b4b844" stroke="#7a6016" stroke-width="0.8"/>
<text x="357.20" y="477.6" font-size="9.5" fill="#141414">8:31am</text>
<polygon points="426.94,468.20 428.53,472.82 433.41,472.90 429.51,475.83 430.94,480.50 426.94,477.70 422.95,480.50 424.38,475.83 420.48,472.90 425.36,472.82" fill="#7a5c14" stroke="#6a5010" stroke-width="0.4" stroke-miterlimit="10"/>
<circle cx="426.94" cy="475.0" r="4.2" fill="#b4b844" stroke="#7a6016" stroke-width="0.8"/>
<text x="433.64" y="477.6" font-size="9.5" fill="#141414">8:30am</text>
<polygon points="503.39,468.20 504.98,472.82 509.86,472.90 505.96,475.83 507.39,480.50 503.39,477.70 499.39,480.50 500.82,475.83 496.92,472.90 501.80,472.82" fill="#7a5c14" stroke="#6a5010" stroke-width="0.4" stroke-miterlimit="10"/>
<circle cx="503.39" cy="475.0" r="4.2" fill="#b4b844" stroke="#7a6016" stroke-width="0.8"/>
<text x="510.09" y="477.6" font-size="9.5" fill="#141414">8:29am</text>
<polygon points="579.84,468.20 581.42,472.82 586.30,472.90 582.41,475.83 583.83,480.50 579.84,477.70 575.84,480.50 577.27,475.83 573.37,472.90 578.25,472.82" fill="#7a5c14" stroke="#6a5010" stroke-width="0.4" stroke-miterlimit="10"/>
<circle cx="579.84" cy="475.0" r="4.2" fill="#b4b844" stroke="#7a6016" stroke-width="0.8"/>
<text x="586.54" y="477.6" font-size="9.5" fill="#141414">8:28am</text>
<polygon points="656.28,468.20 657.87,472.82 662.75,472.90 658.85,475.83 660.28,480.50 656.28,477.70 652.29,480.50 653.72,475.83 649.82,472.90 654.70,472.82" fill="#7a5c14" stroke="#6a5010" stroke-width="0.4" stroke-miterlimit="10"/>
<circle cx="656.28" cy="475.0" r="4.2" fill="#b4b844" stroke="#7a6016" stroke-width="0.8"/>
<text x="662.98" y="477.6" font-size="9.5" fill="#141414">8:27am</text>
<polygon points="75.57,481.90 77.16,486.52 82.04,486.60 78.14,489.53 79.57,494.20 75.57,491.40 71.58,494.20 73.01,489.53 69.11,486.60 73.99,486.52" fill="#7a5c14" stroke="#6a5010" stroke-width="0.4" stroke-miterlimit="10"/>
<circle cx="75.57" cy="488.7" r="4.5" fill="#8a6a22"/>
<circle cx="75.57" cy="488.7" r="3.4" fill="#e0843a" stroke="#ea2c26" stroke-width="1.0" stroke-dasharray="2.4 0.8"/>
<text x="82.27" y="492.6" font-size="9.5" fill="#141414">6:16pm</text>
<polygon points="152.18,481.90 153.77,486.52 158.65,486.60 154.75,489.53 156.18,494.20 152.18,491.40 148.18,494.20 149.61,489.53 145.71,486.60 150.59,486.52" fill="#7a5c14" stroke="#6a5010" stroke-width="0.4" stroke-miterlimit="10"/>
<circle cx="152.18" cy="488.7" r="4.5" fill="#8a6a22"/>
<circle cx="152.18" cy="488.7" r="3.4" fill="#e0843a" stroke="#ea2c26" stroke-width="1.0" stroke-dasharray="2.4 0.8"/>
<text x="158.88" y="492.6" font-size="9.5" fill="#141414">6:18pm</text>
<polygon points="228.73,481.90 230.32,486.52 235.20,486.60 231.30,489.53 232.73,494.20 228.73,491.40 224.74,494.20 226.17,489.53 222.27,486.60 227.15,486.52" fill="#7a5c14" stroke="#6a5010" stroke-width="0.4" stroke-miterlimit="10"/>
<circle cx="228.73" cy="488.7" r="4.5" fill="#8a6a22"/>
<circle cx="228.73" cy="488.7" r="3.4" fill="#e0843a" stroke="#ea2c26" stroke-width="1.0" stroke-dasharray="2.4 0.8"/>
<text x="235.43" y="492.6" font-size="9.5" fill="#141414">6:19pm</text>
<polygon points="305.29,481.90 306.87,486.52 311.75,486.60 307.86,489.53 309.28,494.20 305.29,491.40 301.29,494.20 302.72,489.53 298.82,486.60 303.70,486.52" fill="#7a5c14" stroke="#6a5010" stroke-width="0.4" stroke-miterlimit="10"/>
<circle cx="305.29" cy="488.7" r="4.5" fill="#8a6a22"/>
<circle cx="305.29" cy="488.7" r="3.4" fill="#e0843a" stroke="#ea2c26" stroke-width="1.0" stroke-dasharray="2.4 0.8"/>
<text x="311.99" y="492.6" font-size="9.5" fill="#141414">6:20pm</text>
<polygon points="381.89,481.90 383.48,486.52 388.36,486.60 384.46,489.53 385.89,494.20 381.89,491.40 377.90,494.20 379.33,489.53 375.43,486.60 380.31,486.52" fill="#7a5c14" stroke="#6a5010" stroke-width="0.4" stroke-miterlimit="10"/>
<circle cx="381.89" cy="488.7" r="4.5" fill="#8a6a22"/>
<circle cx="381.89" cy="488.7" r="3.4" fill="#e0843a" stroke="#ea2c26" stroke-width="1.0" stroke-dasharray="2.4 0.8"/>
<text x="388.59" y="492.6" font-size="9.5" fill="#141414">6:22pm</text>
<polygon points="458.45,481.90 460.03,486.52 464.91,486.60 461.01,489.53 462.44,494.20 458.45,491.40 454.45,494.20 455.88,489.53 451.98,486.60 456.86,486.52" fill="#7a5c14" stroke="#6a5010" stroke-width="0.4" stroke-miterlimit="10"/>
<circle cx="458.45" cy="488.7" r="4.5" fill="#8a6a22"/>
<circle cx="458.45" cy="488.7" r="3.4" fill="#e0843a" stroke="#ea2c26" stroke-width="1.0" stroke-dasharray="2.4 0.8"/>
<text x="465.15" y="492.6" font-size="9.5" fill="#141414">6:23pm</text>
<polygon points="535.00,481.90 536.59,486.52 541.47,486.60 537.57,489.53 539.00,494.20 535.00,491.40 531.00,494.20 532.43,489.53 528.53,486.60 533.41,486.52" fill="#7a5c14" stroke="#6a5010" stroke-width="0.4" stroke-miterlimit="10"/>
<circle cx="535.00" cy="488.7" r="4.5" fill="#8a6a22"/>
<circle cx="535.00" cy="488.7" r="3.4" fill="#e0843a" stroke="#ea2c26" stroke-width="1.0" stroke-dasharray="2.4 0.8"/>
<text x="541.70" y="492.6" font-size="9.5" fill="#141414">6:24pm</text>
<polygon points="611.61,481.90 613.19,486.52 618.07,486.60 614.17,489.53 615.60,494.20 611.61,491.40 607.61,494.20 609.04,489.53 605.14,486.60 610.02,486.52" fill="#7a5c14" stroke="#6a5010" stroke-width="0.4" stroke-miterlimit="10"/>
<circle cx="611.61" cy="488.7" r="4.5" fill="#8a6a22"/>
<circle cx="611.61" cy="488.7" r="3.4" fill="#e0843a" stroke="#ea2c26" stroke-width="1.0" stroke-dasharray="2.4 0.8"/>
<text x="618.31" y="492.6" font-size="9.5" fill="#141414">6:26pm</text>
<polygon points="688.16,481.90 689.75,486.52 694.63,486.60 690.73,489.53 692.16,494.20 688.16,491.40 684.16,494.20 685.59,489.53 681.69,486.60 686.57,486.52" fill="#7a5c14" stroke="#6a5010" stroke-width="0.4" stroke-miterlimit="10"/>
<circle cx="688.16" cy="488.7" r="4.5" fill="#8a6a22"/>
<circle cx="688.16" cy="488.7" r="3.4" fill="#e0843a" stroke="#ea2c26" stroke-width="1.0" stroke-dasharray="2.4 0.8"/>
<text x="694.86" y="492.6" font-size="9.5" fill="#141414">6:27pm</text>
<circle cx="74.67" cy="502.2" r="5.0" fill="#ffffcc" stroke="#8a8a8a" stroke-width="0.9"/>
<text x="81.67" y="505.7" font-size="9.5" fill="#141414">5:58pm</text>
<circle cx="154.46" cy="502.2" r="5.0" fill="#ffffcc" stroke="#8a8a8a" stroke-width="0.9"/>
<text x="161.46" y="505.7" font-size="9.5" fill="#141414">7:00pm</text>
<circle cx="234.31" cy="502.2" r="5.0" fill="#ffffcc" stroke="#8a8a8a" stroke-width="0.9"/>
<text x="241.31" y="505.7" font-size="9.5" fill="#141414">8:03pm</text>
<circle cx="314.26" cy="502.2" r="5.0" fill="#ffffcc" stroke="#8a8a8a" stroke-width="0.9"/>
<text x="321.26" y="505.7" font-size="9.5" fill="#141414">9:08pm</text>
<circle cx="394.22" cy="502.2" r="5.0" fill="#ffffcc" stroke="#8a8a8a" stroke-width="0.9"/>
<text x="401.22" y="505.7" font-size="9.5" fill="#141414">10:13pm</text>
<circle cx="474.28" cy="502.2" r="5.0" fill="#ffffcc" stroke="#8a8a8a" stroke-width="0.9"/>
<text x="481.28" y="505.7" font-size="9.5" fill="#141414">11:20pm</text>
<circle cx="554.39" cy="502.2" r="5.0" fill="#ffffcc" stroke="#8a8a8a" stroke-width="0.9"/>
<text x="561.39" y="505.7" font-size="9.5" fill="#141414">12:28am</text>
<circle cx="634.55" cy="502.2" r="5.0" fill="#ffffcc" stroke="#8a8a8a" stroke-width="0.9"/>
<text x="641.55" y="505.7" font-size="9.5" fill="#141414">1:37am</text>
<circle cx="120.26" cy="515.6" r="4.95" fill="#c8c5bd" stroke="#808080" stroke-width="0.9"/>
<text x="127.56" y="519.0" font-size="9.5" fill="#141414">8:18am</text>
<circle cx="198.35" cy="515.6" r="4.95" fill="#c8c5bd" stroke="#808080" stroke-width="0.9"/>
<text x="205.65" y="519.0" font-size="9.5" fill="#141414">8:48am</text>
<circle cx="276.39" cy="515.6" r="4.95" fill="#c8c5bd" stroke="#808080" stroke-width="0.9"/>
<text x="283.69" y="519.0" font-size="9.5" fill="#141414">9:17am</text>
<circle cx="354.32" cy="515.6" r="4.95" fill="#c8c5bd" stroke="#808080" stroke-width="0.9"/>
<text x="361.62" y="519.0" font-size="9.5" fill="#141414">9:44am</text>
<circle cx="432.37" cy="515.6" r="4.95" fill="#c8c5bd" stroke="#808080" stroke-width="0.9"/>
<text x="439.67" y="519.0" font-size="9.5" fill="#141414">10:13am</text>
<circle cx="510.41" cy="515.6" r="4.95" fill="#c8c5bd" stroke="#808080" stroke-width="0.9"/>
<text x="517.71" y="519.0" font-size="9.5" fill="#141414">10:42am</text>
<circle cx="588.66" cy="515.6" r="4.95" fill="#c8c5bd" stroke="#808080" stroke-width="0.9"/>
<text x="595.96" y="519.0" font-size="9.5" fill="#141414">11:15am</text>
<circle cx="667.18" cy="515.6" r="4.95" fill="#c8c5bd" stroke="#808080" stroke-width="0.9"/>
<text x="674.48" y="519.0" font-size="9.5" fill="#141414">11:53am</text>
<text x="112.66" y="532.35" font-size="9.33" text-anchor="end" fill="#141414">Full Moon |</text>
<text x="115.26" y="532.35" font-size="9.33" fill="#141414">5:38am</text>
<text x="677.80" y="532.35" font-size="9.33" text-anchor="end" fill="#141414">Last Quarter |</text>
<text x="680.40" y="532.35" font-size="9.33" fill="#141414">2:56pm</text>
</svg></body></html>
